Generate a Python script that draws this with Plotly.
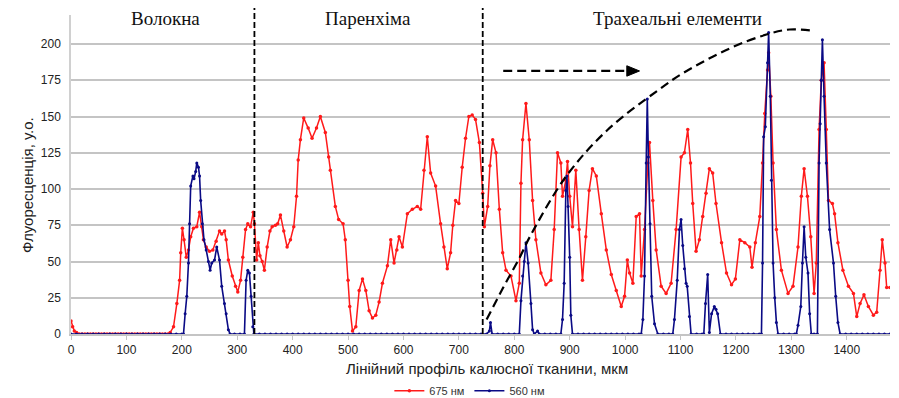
import plotly.graph_objects as go

# ---------------- data ----------------
# 675 nm series, in segments
red_x1 = [0, 3, 6, 10, 15, 20, 25, 30, 35, 40, 45, 50, 55, 60, 65, 70, 75, 80, 85, 90, 95,
          100, 105, 110, 115, 120, 125, 130, 135, 140, 145, 150, 155, 160, 165, 170, 175]
red_y1 = [9, 5, 2, 1, 0, 0, 0, 0, 0, 0, 0, 0, 0, 0, 0, 0, 0, 0, 0, 0, 0,
          0, 0, 0, 0, 0, 0, 0, 0, 0, 0, 0, 0, 0, 0, 0, 0]
red_x2 = [179, 185, 191, 196, 198, 201, 204, 208, 212, 216, 221, 227, 232, 236, 239, 244, 250,
          256, 262, 268, 272, 277, 280, 284, 291, 297, 301, 306, 310, 315, 319, 324, 329, 331,
          335, 338, 341, 345, 349, 354, 359, 363, 369, 373, 378, 384, 390, 396, 402, 407, 410,
          414, 420, 428, 435, 443, 450, 459, 465, 468, 477, 483, 491, 495, 500, 503, 508, 514, 520]
red_y2 = [1, 5, 21, 37, 56, 73, 65, 53, 58, 67, 73, 74, 84, 74, 65, 60, 57,
          58, 64, 71, 69, 71, 65, 51, 40, 33, 29, 37, 53, 72, 76, 74, 84, 76,
          51, 63, 54, 50, 44, 60, 71, 74, 75, 76, 82, 71, 60, 65, 74, 95, 120,
          134, 149, 142, 135, 142, 150, 139, 122, 113, 88, 79, 76, 65, 37, 19, 2, 5, 30]
red_x3 = [526, 532, 538, 544, 550, 556, 562, 571, 577, 583, 588, 592, 598, 607, 616, 625, 631,
          637, 643, 649, 658, 667, 673, 679, 685, 689, 694, 700, 706, 712, 718, 724, 730, 737,
          743, 746, 752, 756, 761, 767, 773, 779, 785, 794, 803, 809, 812, 815, 821]
red_y3 = [38, 30, 16, 11, 13, 22, 35, 47, 65, 49, 58, 67, 60, 83, 86, 88, 86,
          113, 136, 111, 102, 76, 60, 45, 56, 75, 92, 90, 115, 135, 150, 151, 148, 132,
          97, 74, 88, 116, 134, 125, 86, 56, 44, 40, 23, 35, 104, 134, 159]
red_x4 = [827, 833, 839, 848, 857, 866, 872, 878, 884, 887, 893, 896, 900, 905, 911, 917, 923,
          929, 935, 941, 948, 957, 966, 975, 984, 993, 999, 1004, 1008, 1014, 1020, 1026, 1029,
          1035, 1041, 1044, 1050, 1056, 1065, 1074, 1083, 1092, 1101, 1107, 1113]
red_y4 = [134, 92, 65, 42, 34, 37, 72, 125, 118, 95, 106, 119, 95, 74, 113, 72, 37,
          67, 99, 114, 109, 83, 58, 41, 30, 19, 26, 51, 42, 35, 81, 83, 40,
          72, 118, 132, 92, 58, 33, 28, 35, 72, 122, 125, 141]
red_x5 = [1118, 1122, 1128, 1134, 1140, 1146, 1152, 1158, 1164, 1174, 1183, 1192, 1199, 1207,
          1216, 1225, 1229, 1235, 1243, 1248, 1252, 1257, 1259, 1263, 1267, 1273, 1282, 1294,
          1303, 1312, 1318, 1323, 1329, 1335, 1341, 1345, 1350, 1354, 1359, 1363, 1367, 1374,
          1378, 1384, 1393, 1403, 1412, 1418, 1424, 1431, 1439, 1448, 1454, 1460, 1464, 1469,
          1472, 1478]
red_y5 = [118, 90, 57, 65, 81, 97, 114, 111, 90, 63, 42, 34, 38, 65,
          63, 60, 46, 63, 81, 118, 152, 182, 194, 164, 118, 72, 44, 28,
          33, 60, 95, 114, 95, 67, 28, 49, 141, 175, 187, 141, 92, 90,
          83, 63, 44, 33, 28, 12, 21, 27, 19, 13, 15, 44, 65, 49,
          32, 32]

# 560 nm series, in segments
blue_x1 = [0, 10, 20, 30, 40, 50, 60, 70, 80, 90, 100, 110, 120, 130, 140, 150, 160, 170, 180, 190, 200]
blue_y1 = [0, 0, 0, 0, 0, 0, 0, 0, 0, 0, 0, 0, 0, 0, 0, 0, 0, 0, 0, 0, 0]
blue_x2 = [203, 206, 209, 212, 214, 216, 220, 222, 225, 227, 230, 232, 234, 237, 240, 244, 248,
           251, 254, 259, 263, 268, 272, 277, 280, 284, 287]
blue_y2 = [0, 14, 26, 49, 76, 102, 109, 107, 112, 118, 115, 109, 92, 76, 65, 58, 50,
           44, 49, 51, 60, 51, 33, 21, 14, 3, 0]
blue_x3 = [295, 305, 313, 316, 319, 322, 325, 328, 330]
blue_y3 = [0, 0, 0, 37, 44, 42, 26, 5, 0]
blue_x4 = [340, 350, 360, 370, 380, 390, 400, 410, 420, 430, 440, 450, 460, 470, 480, 490, 500,
           510, 520, 530, 540, 550, 560, 570, 580, 590, 600, 610, 620, 630, 640, 650, 660, 670,
           680, 690, 700, 710, 720, 730, 740, 750]
blue_y4 = [0, 0, 0, 0, 0, 0, 0, 0, 0, 0, 0, 0, 0, 0, 0, 0, 0,
           0, 0, 0, 0, 0, 0, 0, 0, 0, 0, 0, 0, 0, 0, 0, 0, 0,
           0, 0, 0, 0, 0, 0, 0, 0]
blue_x5 = [755, 757, 760, 770, 780, 790, 800, 809]
blue_y5 = [2, 8, 0, 0, 0, 0, 0, 0]
blue_x6 = [812, 815, 818, 821, 825, 830, 833, 836, 842, 845, 855, 865, 875, 884]
blue_y6 = [23, 40, 50, 63, 49, 21, 3, 0, 2, 0, 0, 0, 0, 0]
blue_x7 = [887, 890, 893, 895, 897, 900, 902, 905, 915, 925, 935, 945, 955, 965, 975, 985, 995,
           1005, 1015, 1025]
blue_y7 = [10, 35, 99, 109, 88, 53, 13, 0, 0, 0, 0, 0, 0, 0, 0, 0, 0,
           0, 0, 0]
blue_x8 = [1029, 1032, 1035, 1038, 1040, 1042, 1045, 1048, 1053, 1059, 1069, 1079, 1086]
blue_y8 = [0, 10, 40, 118, 162, 122, 76, 26, 7, 0, 0, 0, 0]
blue_x9 = [1089, 1094, 1098, 1101, 1104, 1107, 1110, 1112, 1116, 1119, 1129, 1139, 1142]
blue_y9 = [10, 37, 72, 79, 61, 45, 35, 33, 12, 0, 0, 0, 0]
blue_x10 = [1145, 1149, 1152, 1156, 1161, 1164, 1167, 1172, 1182, 1192, 1202, 1212, 1222, 1232,
            1242, 1246]
blue_y10 = [21, 41, 1, 14, 19, 17, 14, 0, 0, 0, 0, 0, 0, 0,
            0, 0]
blue_x11 = [1248, 1250, 1253, 1257, 1259, 1262, 1264, 1267, 1270, 1273, 1276, 1286, 1296, 1306, 1309]
blue_y11 = [49, 136, 143, 187, 208, 164, 106, 49, 25, 8, 0, 0, 0, 0, 0]
blue_x12 = [1312, 1317, 1320, 1323, 1326, 1330, 1333, 1336, 1341, 1347]
blue_y12 = [6, 19, 49, 74, 53, 42, 14, 0, 0, 0]
blue_x13 = [1350, 1352, 1354, 1356, 1359, 1363, 1369, 1376, 1380, 1384, 1388, 1398, 1408, 1418,
            1428, 1438, 1448, 1458, 1468, 1478]
blue_y13 = [118, 145, 175, 203, 164, 118, 72, 49, 26, 8, 0, 0, 0, 0,
            0, 0, 0, 0, 0, 0]

# guide curve (dashed) and zone boundaries
guide_x = [750, 780, 810, 828, 894, 969, 1059, 1105, 1189, 1255, 1297, 1342]
guide_y = [10, 32, 53, 67, 109, 141, 168, 180, 197, 206.5, 210, 209]
boundaries = [331, 743]
zone_labels = ["Волокна", "Паренхіма", "Трахеальні елементи"]
zone_label_x = [170, 536, 1094]
arrow_x = [780, 1003, 1026]
arrow_y = 181.4

x_ticks = [0, 100, 200, 300, 400, 500, 600, 700, 800, 900, 1000, 1100, 1200, 1300, 1400]
y_ticks = [0, 25, 50, 75, 100, 125, 150, 175, 200]
x_title = "Лінійний профіль калюсної тканини, мкм"
y_title = "Флуоресценція, у.о."

red_x = red_x1 + red_x2 + red_x3 + red_x4 + red_x5
red_y = red_y1 + red_y2 + red_y3 + red_y4 + red_y5
blue_x = (blue_x1 + blue_x2 + blue_x3 + blue_x4 + blue_x5 + blue_x6 + blue_x7 + blue_x8 +
          blue_x9 + blue_x10 + blue_x11 + blue_x12 + blue_x13)
blue_y = (blue_y1 + blue_y2 + blue_y3 + blue_y4 + blue_y5 + blue_y6 + blue_y7 + blue_y8 +
          blue_y9 + blue_y10 + blue_y11 + blue_y12 + blue_y13)

RED = "#ff1a1a"
BLUE = "#0a0a85"
SANS = "Liberation Sans, Arial, sans-serif"
SERIF = "Liberation Serif, Times New Roman, serif"

fig = go.Figure()
fig.add_trace(go.Scatter(x=red_x, y=red_y, mode="lines+markers", name="675 нм",
                         line=dict(color=RED, width=1.5),
                         marker=dict(color=RED, size=3.5, symbol="circle")))
fig.add_trace(go.Scatter(x=blue_x, y=blue_y, mode="lines+markers", name="560 нм",
                         line=dict(color=BLUE, width=1.6),
                         marker=dict(color=BLUE, size=3, symbol="circle")))
fig.add_trace(go.Scatter(x=guide_x, y=guide_y, mode="lines", showlegend=False,
                         line=dict(color="black", width=2.2, dash="9px,5px", shape="spline"),
                         hoverinfo="skip"))

shapes = []
for bx in boundaries:
    shapes.append(dict(type="line", xref="x", yref="paper", x0=bx, x1=bx, y0=0, y1=1.035,
                       line=dict(color="black", width=1.8, dash="6px,3px")))
shapes.append(dict(type="line", xref="x", yref="y", x0=arrow_x[0], x1=arrow_x[1],
                   y0=arrow_y, y1=arrow_y,
                   line=dict(color="black", width=2.2, dash="9px,5px")))
shapes.append(dict(type="path", xref="x", yref="y",
                   path=f"M {arrow_x[1]} {arrow_y + 3.6} L {arrow_x[2]} {arrow_y} "
                        f"L {arrow_x[1]} {arrow_y - 3.6} Z",
                   fillcolor="black", line=dict(color="black", width=1)))

annotations = []
for lbl, lx in zip(zone_labels, zone_label_x):
    annotations.append(dict(x=lx, y=0.99, xref="x", yref="paper", text=lbl, showarrow=False,
                            xanchor="center", yanchor="middle",
                            font=dict(family=SERIF, size=19, color="#111")))
# axis titles
annotations.append(dict(x=0.508, y=-0.108, xref="paper", yref="paper", text=x_title,
                        showarrow=False, xanchor="center", yanchor="middle",
                        font=dict(family=SANS, size=15, color="#222")))
annotations.append(dict(x=-0.053, y=0.466, xref="paper", yref="paper", text=y_title,
                        showarrow=False, xanchor="center", yanchor="middle", textangle=-90,
                        font=dict(family=SANS, size=15, color="#222")))

# the page body has an 8 px default margin, so the figure is sized to fit inside the window
fig.update_layout(
    width=891, height=390,
    margin=dict(l=63, r=9, t=7, b=64, autoexpand=False),
    paper_bgcolor="white", plot_bgcolor="white",
    font=dict(family=SANS, size=12, color="#222"),
    shapes=shapes, annotations=annotations,
    showlegend=True,
    legend=dict(orientation="h", x=0.487, xanchor="center", y=-0.178, yanchor="middle",
                font=dict(family=SANS, size=11, color="#333"), bgcolor="rgba(0,0,0,0)",
                itemwidth=30, tracegroupgap=0),
    xaxis=dict(range=[0, 1478], tickvals=x_ticks, ticktext=[str(v) for v in x_ticks],
               showgrid=False, zeroline=False, showline=True, linecolor="#c4c4c4", linewidth=1.5,
               ticks="outside", ticklen=4, tickcolor="#c4c4c4", automargin=False,
               tickfont=dict(family=SANS, size=12, color="#222")),
    yaxis=dict(range=[0, 220], tickvals=y_ticks, ticktext=[str(v) for v in y_ticks],
               showgrid=True, gridcolor="#c4c4c4", gridwidth=1.5, zeroline=False,
               showline=True, linecolor="#d0d0d0", linewidth=1.5, ticks="",
               ticklabelstandoff=6, automargin=False,
               tickfont=dict(family=SANS, size=12, color="#222")),
)

fig.write_html("out.html")
